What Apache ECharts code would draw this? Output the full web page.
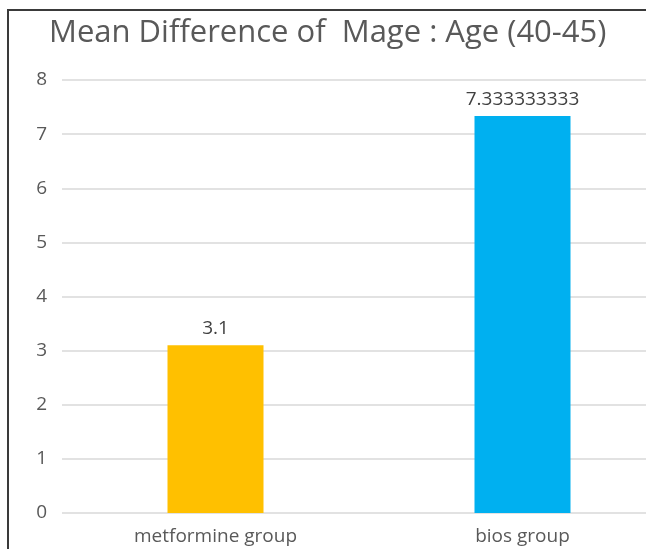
<!DOCTYPE html>
<html>
<head>
<meta charset="utf-8">
<script src="https://cdn.jsdelivr.net/npm/echarts@6/dist/echarts.min.js"></script>
<style>
  html, body { margin: 0; padding: 0; background: #fff; overflow: hidden; }
  /* the reference is cropped on the right, so the chart runs past the window */
  #chart { width: 676px; height: 549px; }
</style>
</head>
<body>
<div id="chart"></div>
<script>
const categories = ['metformine group', 'bios group'];
const values = [3.1, 7.333333333];
const barColors = ['#FFC000', '#00B0F0'];
const valueLabels = ['3.1', '7.333333333'];

const chart = echarts.init(document.getElementById('chart'));

chart.setOption({
  animation: false,
  textStyle: {fontFamily: 'Open Sans'},
  title: {
    text: 'Mean Difference of  Mage : Age (40-45)',
    left: 44,
    top: 13,
    textStyle: {
      fontFamily: 'Open Sans',
      fontSize: 31,
      fontWeight: 'normal',
      color: '#595959'
    }
  },
  graphic: [
    {
      type: 'polyline',
      shape: {points: [[8, 549], [8, 10], [676, 10]]},
      style: {stroke: '#3a3a3a', lineWidth: 2, fill: null}
    }
  ],
  grid: {left: 62, right: 0, top: 80, bottom: 36},
  xAxis: {
    type: 'category',
    data: categories,
    axisLine: {show: false},
    axisTick: {show: false},
    axisLabel: {color: '#595959', fontSize: 19, margin: 14}
  },
  yAxis: {
    type: 'value',
    min: 0,
    max: 8,
    interval: 1,
    axisLine: {show: false},
    axisTick: {show: false},
    axisLabel: {color: '#595959', fontSize: 19, margin: 15},
    splitLine: {lineStyle: {color: '#d9d9d9', width: 1.5}}
  },
  series: [
    {
      type: 'bar',
      barWidth: 96,
      data: values.map((v, i) => ({
        value: v,
        itemStyle: {color: barColors[i]},
        label: {formatter: valueLabels[i]}
      })),
      label: {
        show: true,
        position: 'top',
        distance: 7,
        color: '#404040',
        fontSize: 19
      }
    }
  ]
});
</script>
</body>
</html>
